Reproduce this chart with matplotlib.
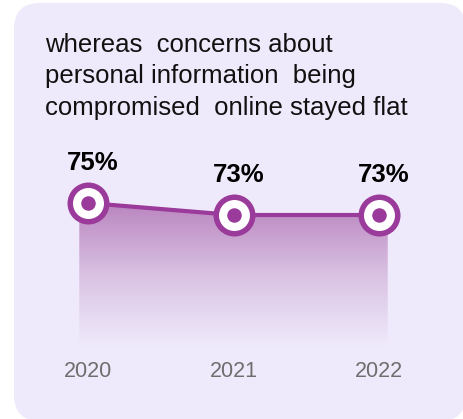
import numpy as np
import matplotlib
matplotlib.use("Agg")
import matplotlib.pyplot as plt
from matplotlib.patches import FancyBboxPatch
from matplotlib.colors import LinearSegmentedColormap

# ---- data ----
years = ["2020", "2021", "2022"]
values = [75, 73, 73]
value_labels = ["75%", "73%", "73%"]
title_lines = ["whereas  concerns about",
               "personal information  being",
               "compromised  online stayed flat"]

# ---- style ----
W, H, DPI = 464, 419, 100
BG = "#EFEAFB"
PURPLE = "#9A3A9A"
FONT = "Liberation Sans"

fig = plt.figure(figsize=(W / DPI, H / DPI), dpi=DPI)
fig.patch.set_facecolor("white")

# background axes in pixel units
bg = fig.add_axes([0, 0, 1, 1])
bg.set_xlim(0, W)
bg.set_ylim(H, 0)
bg.axis("off")
bg.add_patch(FancyBboxPatch((14, 3), 452, 418, boxstyle="round,pad=0,rounding_size=26",
                            facecolor=BG, edgecolor="none"))

for i, line in enumerate(title_lines):
    bg.text(45, 52 + i * 31.5, line, fontsize=18.5, family=FONT, color="#111111",
            va="baseline", ha="left")

# chart axes
px_per_x = 145.5
x0_px = 88
xlim = (-0.2, 2.2)
left_px = x0_px + xlim[0] * px_per_x
width_px = (xlim[1] - xlim[0]) * px_per_x
top_px, bottom_px = 140, 347
ylim = (51, 85.5)
ax = fig.add_axes([left_px / W, 1 - bottom_px / H, width_px / W, (bottom_px - top_px) / H])
ax.set_xlim(*xlim)
ax.set_ylim(*ylim)
ax.patch.set_alpha(0)
for s in ax.spines.values():
    s.set_visible(False)

x = np.arange(len(values))
pad = 0.06
fx = np.concatenate([[x[0] - pad], x, [x[-1] + pad]])
fy = np.concatenate([[values[0]], values, [values[-1]]])
poly = ax.fill_between(fx, fy, ylim[0], color="none", lw=0)

cmap = LinearSegmentedColormap.from_list(
    "g", [(0.70, 0.47, 0.72, 0.0), (0.70, 0.47, 0.72, 0.35), (0.70, 0.47, 0.72, 0.88)])
grad = np.linspace(0, 1, 256).reshape(-1, 1)
img = ax.imshow(grad, extent=[fx[0], fx[-1], ylim[0], max(values)], origin="lower",
                aspect="auto", cmap=cmap, zorder=1, interpolation="bicubic")
img.set_clip_path(poly.get_paths()[0], transform=ax.transData)
ax.set_xlim(*xlim)
ax.set_ylim(*ylim)

ax.plot(x, values, color=PURPLE, lw=3.0, zorder=2, solid_capstyle="butt")
pt = 72 / DPI
ax.plot(x, values, "o", ms=42 * pt, color=PURPLE, mec="none", zorder=3)
ax.plot(x, values, "o", ms=31 * pt, color="white", mec="none", zorder=4)
ax.plot(x, values, "o", ms=14.5 * pt, color=PURPLE, mec="none", zorder=5)

for xi, v, lab in zip(x, values, value_labels):
    ax.annotate(lab, (xi, v), xytext=(5 * pt, 33 * pt), textcoords="offset points",
                ha="center", va="baseline", fontsize=18.5, fontweight="bold",
                family=FONT, color="black")

ax.set_xticks(x)
ax.set_xticklabels(years, fontsize=15.5, family=FONT, color="#6E6E6E")
ax.tick_params(axis="x", length=0, pad=10)
ax.set_yticks([])

fig.savefig("out.png", dpi=DPI, facecolor="white")
